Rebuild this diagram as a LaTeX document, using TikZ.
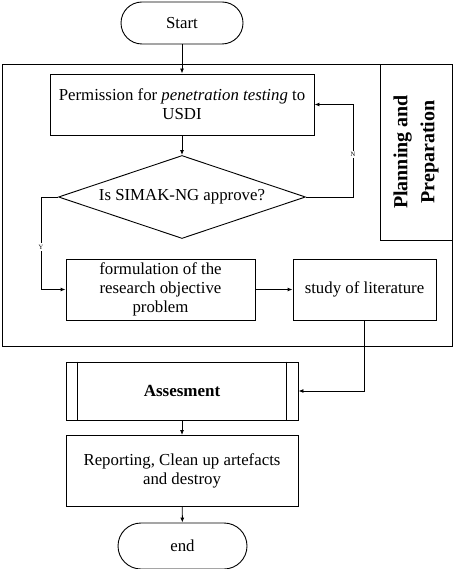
\documentclass[tikz,border=0pt]{standalone}
\usepackage{fontspec}
\setmainfont{Liberation Serif}
\usepackage{tikz}
\tikzset{x=1pt,y=-1pt}
\usetikzlibrary{arrows.meta, shapes.geometric}
\tikzset{
  box/.style={draw, line width=.9pt, align=center, inner sep=2pt,
    font=\fontsize{16.8}{19.3}\selectfont},
  term/.style={box, rounded corners=21pt},
  lbl/.style={fill=white, inner sep=1.5pt, font=\fontsize{6.5}{7}\selectfont},
  flow/.style={line width=.9pt, -{Latex[length=5pt,width=4pt]}}
}

\begin{document}
\begin{tikzpicture}
    \useasboundingbox (0,0) rectangle (455,569);
    % phase frame
    \node[draw, line width=.9pt, minimum width=450pt, minimum height=282pt]
      (frame) at (227,205) {};
    \node[box, rotate=90, minimum width=176pt, minimum height=72pt,
      font=\bfseries\fontsize{20}{27}\selectfont] (plan) at (416,152)
      {Planning and\\Preparation};
    % terminals
    \node[term, minimum width=122pt, minimum height=42pt] (start) at (182,23) {Start};
    \node[term, rounded corners=23pt, minimum width=129pt, minimum height=46pt]
      (end) at (182.5,546) {end};
    % steps
    \node[box, minimum width=264pt, minimum height=61pt] (perm) at (182,104.5)
      {Permission for \textit{penetration testing} to\\USDI};
    \node[box, diamond, aspect=3, inner sep=1pt, minimum width=247pt,
      minimum height=83pt] (dia) at (182,197) {Is SIMAK-NG approve?};
    \node[box, minimum width=189pt, minimum height=61pt] (form) at (160.5,289.5)
      {formulation of the\\research objective\\problem};
    \node[box, minimum width=143pt, minimum height=61pt] (study) at (364.5,289.5)
      {study of literature};
    \node[box, minimum width=232pt, minimum height=58pt,
      font=\bfseries\fontsize{17}{19.3}\selectfont] (assess) at (182,391) {Assesment};
    \draw[line width=.9pt] ([xshift=12pt]assess.north west) -- ([xshift=12pt]assess.south west)
      ([xshift=-12pt]assess.north east) -- ([xshift=-12pt]assess.south east);
    \node[box, minimum width=232pt, minimum height=71pt] (report) at (182,471)
      {Reporting, Clean up artefacts\\and destroy};
    % connectors
    \draw[flow] (start) -- (perm);
    \draw[flow] (perm) -- (dia);
    \draw[flow] (dia.east) -- ++(47,0) |- node[pos=.23, lbl] {N} (perm.east);
    \draw[flow] (dia.west) -- ++(-17,0) |- node[pos=.27, lbl] {Y} (form.west);
    \draw[flow] (form) -- (study);
    \draw[flow] (study.south) |- (assess.east);
    \draw[flow] (assess) -- (report);
    \draw[flow] (report) -- (end);
\end{tikzpicture}
\end{document}
